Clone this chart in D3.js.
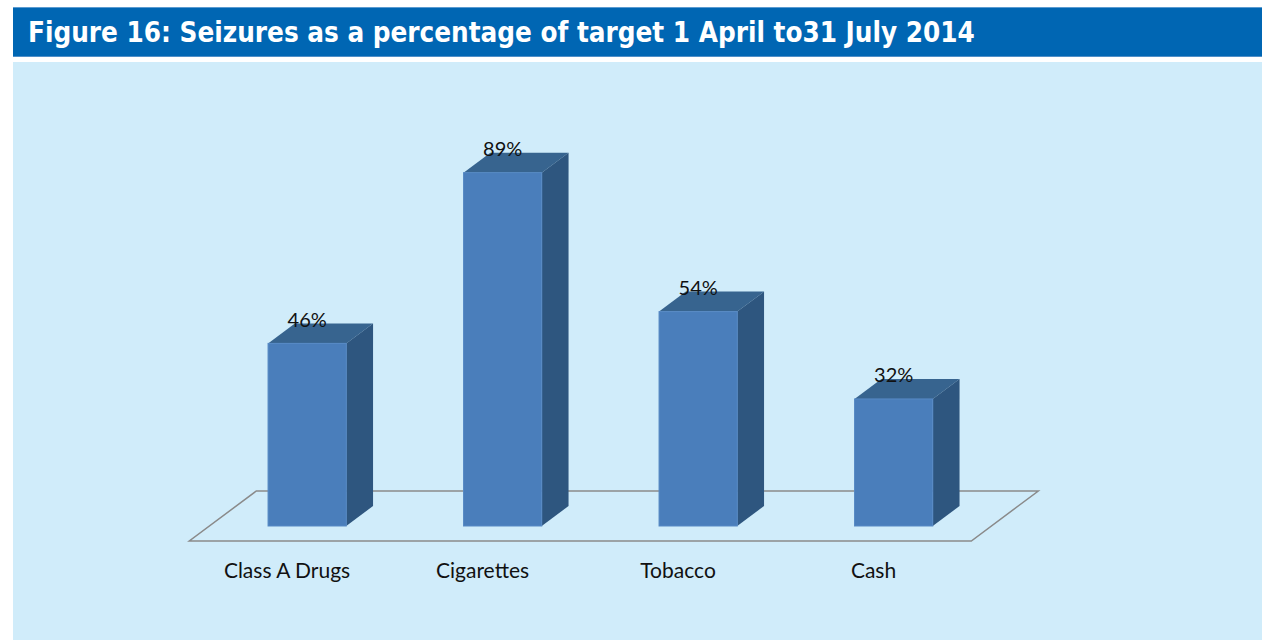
<!DOCTYPE html>
<html>
<head>
<meta charset="utf-8">
<script src="https://cdn.jsdelivr.net/npm/d3@7"></script>
<style>
  html, body { margin: 0; padding: 0; background: #ffffff; }
  svg { display: block; }
</style>
</head>
<body>
<svg id="chart" width="1262" height="640"></svg>
<script>
// Seizures as a percentage of target, 1 April to 31 July 2014
const categories = ["Class A Drugs", "Cigarettes", "Tobacco", "Cash"];
const values = [46, 89, 54, 32];
const valueDomain = [0, 100];
const titleText = "Figure 16: Seizures as a percentage of target 1 April to31 July 2014";

const W = 1262, H = 640;
const svg = d3.select("#chart");

// Header band
svg.append("rect").attr("x", 13).attr("y", 7).attr("width", W - 13).attr("height", 50)
  .attr("fill", "#0066b3");
svg.append("line").attr("x1", 13).attr("x2", W).attr("y1", 7.5).attr("y2", 7.5)
  .attr("stroke", "#5b9bd0").attr("stroke-width", 1);
svg.append("line").attr("x1", 13).attr("x2", W).attr("y1", 56.5).attr("y2", 56.5)
  .attr("stroke", "#4f8fc8").attr("stroke-width", 1);

const title = svg.append("text")
  .attr("x", 28).attr("y", 42)
  .attr("fill", "#ffffff")
  .attr("font-family", "'Liberation Sans Narrow', 'DejaVu Sans Condensed', 'Liberation Sans', sans-serif")
  .attr("font-stretch", "condensed")
  .attr("font-weight", "bold")
  .attr("font-size", 26)
  .text(titleText);
// fit the title to its intended width
const tw = title.node().getComputedTextLength();
title.attr("font-size", 26 * 947 / tw);

// Chart panel
svg.append("rect").attr("x", 13).attr("y", 62).attr("width", W - 13).attr("height", H - 62)
  .attr("fill", "#d0ecfa");

// 3D floor geometry: front edge and depth offset
const floorFrontY = 541;
const depthDX = 67, depthDY = -50;
const barDepth0 = 0.3, barDepth1 = 0.7;

const x = d3.scaleBand()
  .domain(categories)
  .range([189.3, 971.3])
  .paddingInner(0.6)
  .paddingOuter(0.3);

const h = d3.scaleLinear().domain(valueDomain).range([0, 397]);

// floor outline
const floorPts = [
  [x.range()[0], floorFrontY],
  [x.range()[1], floorFrontY],
  [x.range()[1] + depthDX, floorFrontY + depthDY],
  [x.range()[0] + depthDX, floorFrontY + depthDY]
];
svg.append("path")
  .attr("d", d3.line()(floorPts) + "Z")
  .attr("fill", "none")
  .attr("stroke", "#8a8a8a")
  .attr("stroke-width", 1.5);

// bars
const g = svg.append("g");
const bw = x.bandwidth();
const fdx = depthDX * barDepth0, fdy = depthDY * barDepth0;
const ddx = depthDX * (barDepth1 - barDepth0), ddy = depthDY * (barDepth1 - barDepth0);

categories.forEach((c, i) => {
  const x0 = x(c) + fdx;
  const x1 = x0 + bw;
  const yb = floorFrontY + fdy;
  const yt = yb - h(values[i]);
  // top face
  g.append("path")
    .attr("d", d3.line()([[x0, yt], [x1, yt], [x1 + ddx, yt + ddy], [x0 + ddx, yt + ddy]]) + "Z")
    .attr("fill", "#37648f");
  // side face
  g.append("path")
    .attr("d", d3.line()([[x1, yt], [x1 + ddx, yt + ddy], [x1 + ddx, yb + ddy], [x1, yb]]) + "Z")
    .attr("fill", "#2e567f");
  // front face
  g.append("rect")
    .attr("x", x0).attr("y", yt).attr("width", bw).attr("height", yb - yt)
    .attr("fill", "#4a7ebb")
    .attr("stroke", "#5689c4").attr("stroke-width", 1);
  // value label
  g.append("text")
    .attr("x", x0 + bw / 2).attr("y", yt - 16.5)
    .attr("text-anchor", "middle")
    .attr("font-family", "Lato, 'Open Sans', sans-serif")
    .attr("font-size", 20)
    .attr("fill", "#111111")
    .text(values[i] + "%");
});

// category labels
svg.append("g").selectAll("text")
  .data(categories)
  .join("text")
  .attr("x", d => x(d) + bw / 2)
  .attr("y", 578)
  .attr("text-anchor", "middle")
  .attr("font-family", "Lato, 'Open Sans', sans-serif")
  .attr("font-size", 21)
  .attr("fill", "#111111")
  .text(d => d);
</script>
</body>
</html>
